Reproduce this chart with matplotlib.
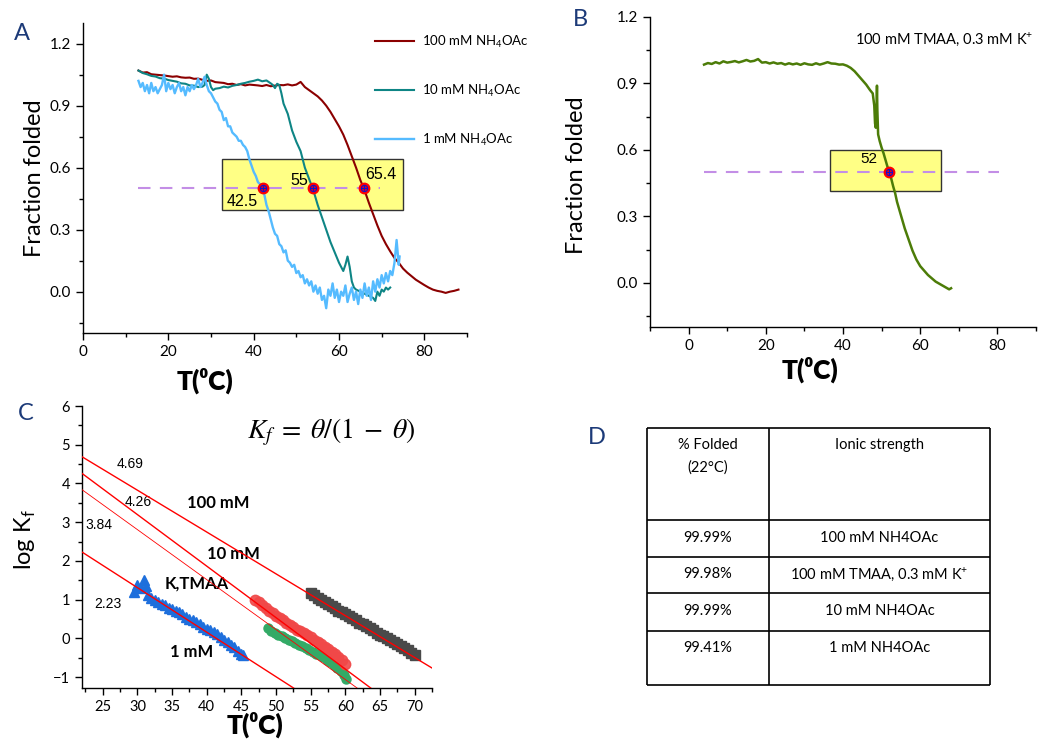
import matplotlib
matplotlib.use("Agg")
import matplotlib.pyplot as plt
from matplotlib.patches import Rectangle
from matplotlib.ticker import MultipleLocator, FormatStrFormatter

plt.rcParams["font.family"] = ["Lato", "DejaVu Sans"]
plt.rcParams["axes.linewidth"] = 1.0

W, H = 1052, 742
NAVY = "#1c3a78"
NUM_FONT = ["Liberation Sans", "DejaVu Sans"]

# ---------------- panel A: melting curves (NH4OAc) ----------------
t_100 = [13, 14, 15, 16, 17, 18, 19, 20, 21, 22, 23, 24, 25, 26, 27, 28, 29, 30,
         31, 32, 33, 34, 35, 36, 37, 38, 39, 40, 41, 42, 43, 44, 45, 46, 47, 48,
         49, 50, 51, 52, 53, 54, 55, 56, 57, 58, 59, 60, 61, 62, 63, 64, 65, 66,
         67, 68, 69, 70, 71, 72, 73, 74, 75, 76, 77, 78, 79, 80, 81, 82, 83, 84,
         85, 86, 87, 88]
f_100 = [1.07, 1.06, 1.062, 1.052, 1.05, 1.048, 1.046, 1.043, 1.04, 1.042, 1.037,
         1.035, 1.036, 1.03, 1.031, 1.025, 1.02, 1.022, 1.014, 1.012, 1.01, 1.004,
         1.006, 1.0, 1.004, 0.998, 1.002, 1.0, 0.998, 0.995, 1.0, 0.994, 0.997,
         1.0, 0.999, 1.003, 0.998, 1.002, 1.015, 0.99, 0.975, 0.96, 0.945, 0.925,
         0.9, 0.87, 0.835, 0.8, 0.76, 0.71, 0.655, 0.6, 0.54, 0.49, 0.43, 0.375,
         0.32, 0.27, 0.23, 0.195, 0.163, 0.14, 0.112, 0.092, 0.075, 0.058, 0.045,
         0.032, 0.02, 0.01, 0.004, 0.0, -0.006, 0.0, 0.004, 0.01]

t_10 = [13, 14, 15, 16, 17, 18, 19, 20, 21, 22, 23, 24, 25, 26, 27, 28, 28.5, 29,
        29.5, 30, 30.5, 31, 32, 33, 34, 35, 36, 37, 38, 39, 40, 41, 42, 43, 44,
        44.5, 45, 45.5, 46, 46.5, 47, 48, 49, 50, 51, 52, 53, 54, 55, 56, 57, 58,
        59, 60, 61, 61.5, 62, 62.5, 63, 63.5, 64, 65, 66, 67, 68, 68.5, 69, 69.5,
        70, 70.5, 71, 71.5, 72]
f_10 = [1.07, 1.058, 1.052, 1.044, 1.041, 1.033, 1.031, 1.024, 1.02, 1.016, 1.008,
        1.006, 0.998, 0.997, 0.99, 0.992, 1.0, 1.05, 1.03, 0.99, 0.975, 0.982,
        0.985, 0.992, 0.988, 0.996, 1.0, 1.006, 1.01, 1.016, 1.02, 1.026, 1.018,
        1.022, 1.008, 1.0, 0.985, 1.006, 1.0, 0.96, 0.91, 0.86, 0.78, 0.725, 0.68,
        0.6, 0.545, 0.49, 0.42, 0.36, 0.3, 0.24, 0.19, 0.14, 0.1, 0.13, 0.17, 0.12,
        0.05, 0.02, 0.01, 0.0, -0.01, -0.02, -0.03, -0.045, 0.0, -0.02, 0.01, 0.0,
        0.02, 0.01, 0.02]

t_1 = [13, 13.5, 14, 14.5, 15, 15.5, 16, 16.5, 17, 17.5, 18, 18.5, 19, 19.5, 20,
       20.5, 21, 21.5, 22, 22.5, 23, 23.5, 24, 24.5, 25, 25.5, 26, 26.5, 27, 27.5,
       28, 28.5, 29, 29.5, 30, 30.5, 31, 31.5, 32, 32.5, 33, 33.5, 34, 34.5, 35,
       35.5, 36, 36.5, 37, 37.5, 38, 38.5, 39, 39.5, 40, 40.5, 41, 41.5, 42, 42.5,
       43, 43.5, 44, 44.5, 45, 45.5, 46, 46.5, 47, 47.5, 48, 48.5, 49, 49.5, 50,
       50.5, 51, 51.5, 52, 52.5, 53, 53.5, 54, 54.5, 55, 55.5, 56, 56.5, 57, 57.5,
       58, 58.5, 59, 59.5, 60, 60.5, 61, 61.5, 62, 62.5, 63, 63.5, 64, 64.5, 65,
       65.5, 66, 66.5, 67, 67.5, 68, 68.5, 69, 69.5, 70, 70.5, 71, 71.5, 72, 72.5,
       73, 73.5, 74, 74.2]
f_1 = [1.02, 0.99, 1.01, 0.97, 1.0, 0.96, 1.01, 0.97, 0.99, 0.96, 0.98, 1.0, 1.05,
       0.97, 1.01, 0.98, 1.0, 0.96, 0.99, 1.01, 0.97, 0.99, 0.95, 0.99, 0.97, 1.0,
       0.98, 1.0, 1.03, 0.99, 1.01, 1.04, 1.0, 0.97, 0.96, 0.94, 0.92, 0.91, 0.88,
       0.87, 0.83, 0.84, 0.8, 0.8, 0.77, 0.76, 0.75, 0.73, 0.73, 0.71, 0.7, 0.68,
       0.64, 0.61, 0.58, 0.56, 0.53, 0.52, 0.5, 0.47, 0.42, 0.39, 0.35, 0.31, 0.28,
       0.27, 0.23, 0.22, 0.19, 0.2, 0.15, 0.14, 0.12, 0.13, 0.09, 0.1, 0.07, 0.08,
       0.04, 0.06, 0.03, 0.05, 0.0, 0.03, -0.01, 0.02, -0.04, -0.02, -0.08, 0.01,
       -0.02, 0.04, -0.03, 0.01, -0.05, 0.0, -0.02, 0.03, -0.05, -0.01, 0.02,
       -0.04, 0.0, -0.06, 0.01, -0.03, 0.04, -0.02, 0.02, -0.04, 0.05, 0.0, 0.06,
       0.02, 0.08, 0.04, 0.09, 0.05, 0.1, 0.08, 0.14, 0.25, 0.13, 0.17]

tm_a_x = [42.3, 53.9, 65.8]
tm_a_labels = ["42.5", "55", "65.4"]
legend_a = ["100 mM NH$_\\mathregular{4}$OAc", "10 mM NH$_\\mathregular{4}$OAc",
            "1 mM NH$_\\mathregular{4}$OAc"]

# ---------------- panel B: TMAA / K+ ----------------
t_tmaa = [4, 5, 6, 7, 8, 9, 10, 11, 12, 13, 14, 15, 16, 17, 18, 19, 20, 21, 22,
          23, 24, 25, 26, 27, 28, 29, 30, 31, 32, 33, 34, 35, 36, 37, 38, 39, 40,
          41, 42, 43, 44, 45, 46, 47, 47.7, 48.1, 48.3, 48.5, 48.7, 48.8, 48.9,
          49.1, 49.5, 50, 50.5, 51, 51.5, 52, 52.5, 53, 53.5, 54, 54.5, 55, 55.5,
          56, 56.5, 57, 57.5, 58, 58.5, 59, 59.5, 60, 61, 62, 63, 64, 65, 66, 67,
          67.5, 68]
f_tmaa = [0.985, 0.992, 0.988, 0.996, 0.99, 1.0, 0.994, 0.997, 1.001, 0.995, 1.0,
          1.006, 0.999, 1.002, 1.01, 0.994, 0.996, 0.99, 0.995, 0.989, 0.992, 0.985,
          0.991, 0.986, 0.99, 0.984, 0.991, 0.986, 0.984, 0.991, 0.985, 0.99, 0.996,
          0.99, 0.989, 0.985, 0.986, 0.98, 0.97, 0.955, 0.935, 0.915, 0.895, 0.87,
          0.855, 0.8, 0.72, 0.7, 0.8, 0.89, 0.78, 0.67, 0.64, 0.61, 0.585, 0.555,
          0.525, 0.497, 0.47, 0.435, 0.405, 0.365, 0.335, 0.305, 0.275, 0.245, 0.22,
          0.195, 0.17, 0.145, 0.125, 0.105, 0.09, 0.075, 0.055, 0.035, 0.02, 0.005,
          -0.005, -0.015, -0.025, -0.03, -0.025]
tm_b_x = [52.0]
tm_b_labels = ["52"]

# ---------------- panel C: log Kf vs T ----------------
t_c100 = [55, 55.5, 56, 56.5, 57, 57.5, 58, 58.5, 59, 59.5, 60, 60.5, 61, 61.5, 62,
          62.5, 63, 63.5, 64, 64.5, 65, 65.5, 66, 66.5, 67, 67.5, 68, 68.5, 69,
          69.5, 70]
k_c100 = [1.17, 1.11, 1.05, 0.99, 0.94, 0.88, 0.83, 0.78, 0.72, 0.67, 0.62, 0.57,
          0.52, 0.47, 0.41, 0.36, 0.31, 0.26, 0.21, 0.15, 0.1, 0.05, 0.0, -0.05,
          -0.1, -0.15, -0.2, -0.26, -0.31, -0.37, -0.42]

t_c10 = [47, 47.5, 48, 48.5, 49, 49.5, 50, 50.5, 51, 51.5, 52, 52.5, 53, 53.5, 54,
         54.5, 55, 55.5, 56, 56.5, 57, 57.5, 58, 58.5, 59, 59.5, 60]
k_c10 = [1.0, 0.93, 0.85, 0.79, 0.72, 0.66, 0.59, 0.53, 0.47, 0.4, 0.35, 0.29,
         0.23, 0.18, 0.13, 0.08, 0.03, -0.03, -0.09, -0.15, -0.21, -0.27, -0.34,
         -0.41, -0.49, -0.57, -0.67]

t_ck = [48.8, 49.3, 49.8, 50.3, 50.8, 51.3, 51.8, 52.3, 52.8, 53.3, 53.8, 54.3,
        54.8, 55.3, 55.8, 56.3, 56.8, 57.3, 57.8, 58.3, 58.8, 59.3, 59.8, 60.1]
k_ck = [0.26, 0.2, 0.14, 0.1, 0.05, 0.01, -0.03, -0.07, -0.11, -0.16, -0.2, -0.25,
        -0.3, -0.34, -0.39, -0.44, -0.49, -0.55, -0.61, -0.68, -0.76, -0.85,
        -0.95, -1.05]

t_c1 = [29.5, 30, 30.5, 31, 31.3, 31.5, 32, 32.5, 33, 33.5, 34, 34.5, 35, 35.5, 36,
        36.5, 37, 37.5, 38, 38.5, 39, 39.5, 40, 40.5, 41, 41.5, 42, 42.5, 43, 43.5,
        44, 44.5, 45, 45.3]
k_c1 = [1.2, 1.38, 1.3, 1.5, 1.35, 1.12, 1.05, 1.0, 0.93, 0.9, 0.86, 0.78, 0.76,
        0.7, 0.67, 0.62, 0.55, 0.5, 0.48, 0.42, 0.38, 0.3, 0.25, 0.22, 0.16, 0.11,
        0.03, -0.04, -0.1, -0.16, -0.23, -0.32, -0.4, -0.43]

fit_t0 = 22
fit_intercepts = [4.69, 4.26, 3.84, 2.23]
fit_slopes = [-0.108, -0.133, -0.129, -0.115]
fit_widths = [1.0, 1.0, 0.6, 1.0]

# ---------------- panel D: table ----------------
pct_folded = ["99.99%", "99.98%", "99.99%", "99.41%"]
ionic = ["100 mM NH4OAc", "100 mM TMAA, 0.3 mM K$^\\mathregular{+}$",
         "10 mM NH4OAc", "1 mM NH4OAc"]

TLABEL = "T(\u2070C)"


def px_axes(fig, left, top, right, bottom):
    return fig.add_axes([left / W, 1 - bottom / H, (right - left) / W, (bottom - top) / H])


def style_axes(ax, labelsize=11):
    for side in ["top", "right"]:
        ax.spines[side].set_visible(False)
    ax.tick_params(which="major", direction="out", length=5, width=1, labelsize=labelsize)
    ax.tick_params(which="minor", direction="out", length=3, width=1)


def tm_marker(ax, xs, y):
    ax.plot(xs, [y] * len(xs), "o", ms=7.5, mfc="red", mec="red", zorder=6)
    ax.plot(xs, [y] * len(xs), "o", ms=4.5, mfc="none", mec="#1010d0", mew=0.8, zorder=7)
    ax.plot(xs, [y] * len(xs), "+", ms=4.5, color="#1010d0", mew=0.8, zorder=7)


fig = plt.figure(figsize=(W / 100, H / 100), dpi=100)

# table axes in pixel coordinates
ax_d = fig.add_axes([0, 0, 1, 1])
ax_d.set_xlim(0, W)
ax_d.set_ylim(H, 0)
ax_d.axis("off")
row_edges = [428, 520, 557, 593, 631, 685]
col_edges = [647, 769, 990]
ax_d.hlines(row_edges, col_edges[0], col_edges[-1], color="black", lw=1.2)
ax_d.vlines(col_edges, row_edges[0], row_edges[-1], color="black", lw=1.2)
c1 = (col_edges[0] + col_edges[1]) / 2
c2 = (col_edges[1] + col_edges[2]) / 2
ax_d.text(c1, 445, "% Folded", ha="center", va="center", fontsize=10.5)
ax_d.text(c1, 468, "(22°C)", ha="center", va="center", fontsize=10.5)
ax_d.text(c2, 445, "Ionic strength", ha="center", va="center", fontsize=10.5)
row_text_y = [538, 574, 611, 648]
for yy, p, s in zip(row_text_y, pct_folded, ionic):
    ax_d.text(c1, yy, p, ha="center", va="center", fontsize=10.5)
    ax_d.text(c2, yy, s, ha="center", va="center", fontsize=10.5)

# ---- A ----
ax_a = px_axes(fig, 83, 23, 467, 333)
ax_a.add_patch(Rectangle((32.6, 0.393), 42.3, 0.25, facecolor="#ffff85",
                         edgecolor="#333333", lw=1, zorder=1))
ax_a.plot(t_100, f_100, color="#8b0000", lw=1.5, label=legend_a[0], zorder=3)
ax_a.plot(t_10, f_10, color="#0e8585", lw=1.5, label=legend_a[1], zorder=3)
ax_a.plot(t_1, f_1, color="#55bbff", lw=1.7, label=legend_a[2], zorder=3)
ax_a.plot([13, 69.5], [0.5, 0.5], color="#c38ee6", lw=1.5, dashes=(6, 4.5), zorder=4)
tm_marker(ax_a, tm_a_x, 0.5)
ax_a.text(37.2, 0.435, tm_a_labels[0], ha="center", va="center", fontsize=11.5, family=NUM_FONT, zorder=8)
ax_a.text(50.8, 0.54, tm_a_labels[1], ha="center", va="center", fontsize=11.5, family=NUM_FONT, zorder=8)
ax_a.text(69.9, 0.566, tm_a_labels[2], ha="center", va="center", fontsize=11.5, family=NUM_FONT, zorder=8)
ax_a.set_xlim(0, 90)
ax_a.set_ylim(-0.2, 1.3)
ax_a.set_xticks([0, 20, 40, 60, 80])
ax_a.set_yticks([0, 0.3, 0.6, 0.9, 1.2])
ax_a.xaxis.set_minor_locator(MultipleLocator(10))
ax_a.yaxis.set_minor_locator(MultipleLocator(0.15))
ax_a.yaxis.set_major_formatter(FormatStrFormatter("%.1f"))
style_axes(ax_a)
ax_a.set_ylabel("Fraction folded", fontsize=17)
ax_a.yaxis.set_label_coords(-0.10, 0.5)
ax_a.set_xlabel(TLABEL, fontsize=19, fontweight="heavy")
ax_a.xaxis.set_label_coords(0.318, -0.11)
ax_a.legend(loc="upper left", bbox_to_anchor=(0.76, 0.965), frameon=False,
            fontsize=9.5, handlelength=3.0, handletextpad=0.6, labelspacing=2.5,
            borderpad=0, borderaxespad=0)

# ---- B ----
ax_b = px_axes(fig, 650, 17, 1036, 327)
ax_b.add_patch(Rectangle((36.6, 0.415), 28.9, 0.185, facecolor="#ffff85",
                         edgecolor="#333333", lw=1, zorder=1))
ax_b.plot(t_tmaa, f_tmaa, color="#4c7c08", lw=1.8, zorder=3)
ax_b.plot([4, 80.5], [0.5, 0.5], color="#c38ee6", lw=1.5, dashes=(6, 4.5), zorder=4)
tm_marker(ax_b, tm_b_x, 0.5)
ax_b.text(46.8, 0.558, tm_b_labels[0], ha="center", va="center", fontsize=11, family=NUM_FONT, zorder=8)
ax_b.set_xlim(-10, 90)
ax_b.set_ylim(-0.2, 1.2)
ax_b.set_xticks([0, 20, 40, 60, 80])
ax_b.set_yticks([0, 0.3, 0.6, 0.9, 1.2])
ax_b.xaxis.set_minor_locator(MultipleLocator(10))
ax_b.yaxis.set_minor_locator(MultipleLocator(0.15))
ax_b.yaxis.set_major_formatter(FormatStrFormatter("%.1f"))
style_axes(ax_b)
ax_b.set_ylabel("Fraction folded", fontsize=17)
ax_b.yaxis.set_label_coords(-0.162, 0.49)
ax_b.set_xlabel(TLABEL, fontsize=19, fontweight="heavy")
ax_b.xaxis.set_label_coords(0.415, -0.095)
fig.text(855 / W, 1 - 39 / H, "100 mM TMAA, 0.3 mM K$^\\mathregular{+}$",
         ha="left", va="center", fontsize=10.5)

# ---- C ----
ax_c = px_axes(fig, 82, 406, 432, 688)
ax_c.plot(t_c1, k_c1, "^", ms=7, color="#1e6fdc", mec="#1e6fdc", zorder=2)
ax_c.plot(t_ck, k_ck, "o", ms=6.5, color="#33aa66", mec="#33aa66", zorder=2)
ax_c.plot(t_c10, k_c10, "o", ms=7.5, color="#f04848", mec="#f04848", alpha=0.9, zorder=3)
ax_c.plot(t_c100, k_c100, "s", ms=6.5, color="#4a4a4a", mec="#4a4a4a", zorder=2)
for b, m, lw in zip(fit_intercepts, fit_slopes, fit_widths):
    ax_c.axline((fit_t0, b), slope=m, color="#ff0000", lw=lw, zorder=4)
ax_c.text(28.9, 4.5, "4.69", ha="center", va="center", fontsize=10, family=NUM_FONT)
ax_c.text(30.1, 3.51, "4.26", ha="center", va="center", fontsize=10, family=NUM_FONT)
ax_c.text(24.4, 2.92, "3.84", ha="center", va="center", fontsize=10, family=NUM_FONT)
ax_c.text(25.8, 0.89, "2.23", ha="center", va="center", fontsize=10, family=NUM_FONT)
ax_c.text(41.7, 3.5, "100 mM", ha="center", va="center", fontsize=12, fontweight="bold")
ax_c.text(43.8, 2.17, "10 mM", ha="center", va="center", fontsize=12, fontweight="bold")
ax_c.text(38.5, 1.42, "K,TMAA", ha="center", va="center", fontsize=12, fontweight="bold")
ax_c.text(37.8, -0.35, "1 mM", ha="center", va="center", fontsize=12, fontweight="bold")
ax_c.text(58, 5.33, r"$K_f\;=\;\theta/(1\;-\;\theta)$", ha="center", va="center",
          fontsize=20, math_fontfamily="stix")
ax_c.set_xlim(22, 72.5)
ax_c.set_ylim(-1.28, 6)
ax_c.set_xticks([25, 30, 35, 40, 45, 50, 55, 60, 65, 70])
ax_c.set_yticks([-1, 0, 1, 2, 3, 4, 5, 6])
ax_c.xaxis.set_minor_locator(MultipleLocator(2.5))
ax_c.yaxis.set_minor_locator(MultipleLocator(0.5))
style_axes(ax_c, labelsize=10.5)
ax_c.set_ylabel("log K$_\\mathregular{f}$", fontsize=17)
ax_c.yaxis.set_label_coords(-0.126, 0.525)
ax_c.set_xlabel(TLABEL, fontsize=19, fontweight="heavy")
ax_c.xaxis.set_label_coords(0.494, -0.085)

# panel letters
for letter, x, y in [("A", 22, 33), ("B", 580, 20), ("C", 26, 413), ("D", 597, 438)]:
    fig.text(x / W, 1 - y / H, letter, ha="center", va="center", fontsize=17, color=NAVY)

fig.savefig("out.png", dpi=100)
